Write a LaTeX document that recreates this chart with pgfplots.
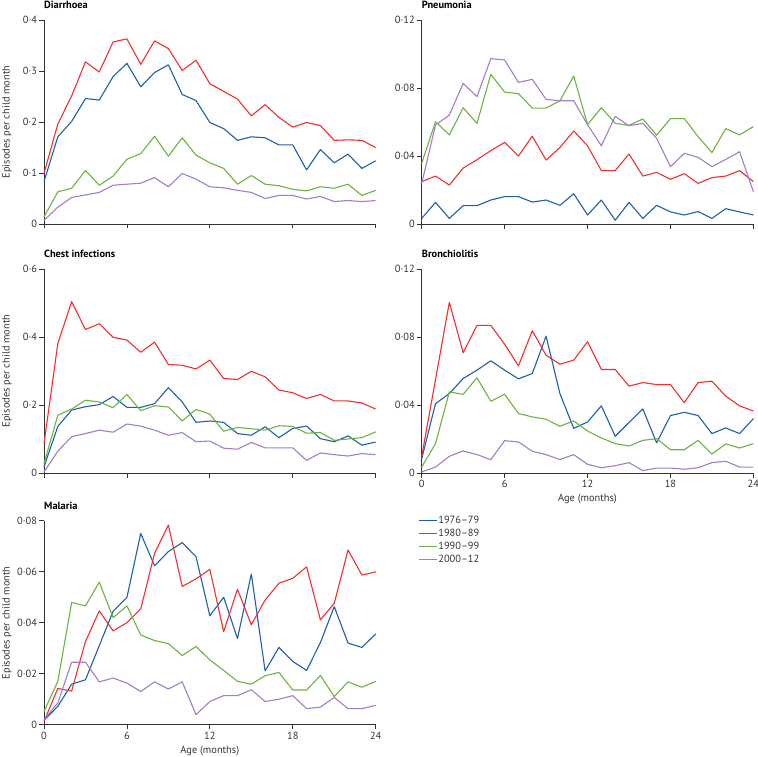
\documentclass[border=0pt]{standalone}
\usepackage{pgfplots}
\usepackage{pgfplotstable}
\pgfplotsset{compat=1.18}
\usepackage{fontspec}
\setmainfont{PT Sans}
\definecolor{cblue}{HTML}{1F5FA8}
\definecolor{cred}{HTML}{EE3030}
\definecolor{cgreen}{HTML}{6CB33F}
\definecolor{cpurple}{HTML}{A27DC8}
\definecolor{txt}{HTML}{333333}

\pgfplotstableread{
x blue red green purple
0 0.083 0.099 0.014 0.007
1 0.171 0.196 0.063 0.033
2 0.201 0.251 0.070 0.052
3 0.246 0.318 0.105 0.057
4 0.243 0.298 0.076 0.062
5 0.289 0.357 0.094 0.076
6 0.315 0.363 0.127 0.078
7 0.269 0.313 0.138 0.080
8 0.297 0.359 0.172 0.091
9 0.312 0.344 0.133 0.073
10 0.254 0.301 0.169 0.099
11 0.242 0.321 0.135 0.088
12 0.199 0.275 0.120 0.073
13 0.187 0.260 0.109 0.071
14 0.164 0.245 0.078 0.066
15 0.171 0.212 0.095 0.062
16 0.169 0.234 0.078 0.050
17 0.155 0.209 0.075 0.056
18 0.155 0.190 0.068 0.056
19 0.106 0.199 0.065 0.049
20 0.146 0.193 0.073 0.054
21 0.120 0.164 0.070 0.044
22 0.137 0.165 0.078 0.046
23 0.109 0.164 0.056 0.044
24 0.124 0.150 0.066 0.046
}\diarrhoea

\pgfplotstableread{
x blue red green purple
0 0.0033 0.0249 0.0357 0.0239
1 0.0127 0.0282 0.0602 0.0582
2 0.0033 0.0229 0.0524 0.0641
3 0.0108 0.0329 0.0684 0.0827
4 0.0108 0.0378 0.0592 0.0749
5 0.0141 0.0432 0.0880 0.0973
6 0.0161 0.0480 0.0776 0.0965
7 0.0161 0.0400 0.0767 0.0833
8 0.0129 0.0516 0.0682 0.0851
9 0.0141 0.0376 0.0682 0.0733
10 0.0110 0.0450 0.0725 0.0725
11 0.0178 0.0547 0.0870 0.0725
12 0.0053 0.0460 0.0584 0.0584
13 0.0141 0.0314 0.0684 0.0460
14 0.0022 0.0314 0.0592 0.0633
15 0.0127 0.0412 0.0580 0.0578
16 0.0033 0.0282 0.0618 0.0592
17 0.0110 0.0304 0.0522 0.0504
18 0.0071 0.0263 0.0620 0.0337
19 0.0053 0.0296 0.0620 0.0416
20 0.0073 0.0239 0.0514 0.0392
21 0.0033 0.0273 0.0420 0.0337
22 0.0090 0.0282 0.0561 0.0380
23 0.0071 0.0314 0.0524 0.0425
24 0.0053 0.0249 0.0573 0.0190
}\pneumonia

\pgfplotstableread{
x blue red green purple
0 0.018 0.086 0.027 0.003
1 0.137 0.381 0.170 0.064
2 0.185 0.504 0.188 0.107
3 0.195 0.422 0.214 0.116
4 0.201 0.439 0.209 0.126
5 0.225 0.399 0.192 0.120
6 0.193 0.391 0.231 0.144
7 0.193 0.355 0.183 0.138
8 0.204 0.385 0.198 0.126
9 0.251 0.319 0.194 0.111
10 0.209 0.317 0.153 0.119
11 0.149 0.306 0.187 0.092
12 0.153 0.332 0.173 0.094
13 0.149 0.278 0.123 0.073
14 0.116 0.275 0.134 0.070
15 0.111 0.299 0.130 0.090
16 0.136 0.283 0.126 0.074
17 0.104 0.244 0.139 0.074
18 0.131 0.236 0.137 0.074
19 0.138 0.219 0.117 0.037
20 0.101 0.231 0.119 0.059
21 0.092 0.212 0.096 0.054
22 0.109 0.212 0.100 0.050
23 0.082 0.206 0.104 0.057
24 0.091 0.188 0.121 0.054
}\chest

\pgfplotstableread{
x blue red green purple
0 0.0084 0.0098 0.0035 0.0006
1 0.0408 0.0550 0.0173 0.0035
2 0.0467 0.1004 0.0477 0.0098
3 0.0556 0.0707 0.0463 0.0130
4 0.0605 0.0868 0.0560 0.0108
5 0.0660 0.0868 0.0422 0.0079
6 0.0605 0.0758 0.0463 0.0190
7 0.0554 0.0630 0.0350 0.0183
8 0.0585 0.0837 0.0330 0.0128
9 0.0805 0.0693 0.0316 0.0108
10 0.0467 0.0640 0.0275 0.0079
11 0.0263 0.0664 0.0306 0.0108
12 0.0300 0.0772 0.0247 0.0051
13 0.0395 0.0609 0.0206 0.0031
14 0.0216 0.0609 0.0173 0.0043
15 0.0297 0.0511 0.0159 0.0061
16 0.0377 0.0532 0.0192 0.0014
17 0.0177 0.0520 0.0202 0.0029
18 0.0338 0.0520 0.0137 0.0029
19 0.0357 0.0414 0.0137 0.0022
20 0.0338 0.0532 0.0192 0.0031
21 0.0232 0.0540 0.0112 0.0061
22 0.0265 0.0452 0.0171 0.0069
23 0.0232 0.0395 0.0147 0.0035
24 0.0320 0.0365 0.0173 0.0035
}\bronch

\pgfplotstableread{
x blue red green purple
0 0.0017 0.0013 0.0052 0.0020
1 0.0072 0.0142 0.0170 0.0085
2 0.0159 0.0132 0.0479 0.0245
3 0.0176 0.0326 0.0466 0.0245
4 0.0310 0.0446 0.0559 0.0168
5 0.0445 0.0368 0.0420 0.0183
6 0.0499 0.0400 0.0466 0.0163
7 0.0750 0.0454 0.0352 0.0130
8 0.0623 0.0672 0.0330 0.0168
9 0.0679 0.0783 0.0318 0.0140
10 0.0714 0.0542 0.0271 0.0168
11 0.0659 0.0572 0.0307 0.0039
12 0.0427 0.0609 0.0254 0.0091
13 0.0500 0.0365 0.0213 0.0114
14 0.0338 0.0531 0.0170 0.0114
15 0.0591 0.0392 0.0159 0.0137
16 0.0211 0.0489 0.0192 0.0091
17 0.0303 0.0555 0.0205 0.0100
18 0.0248 0.0574 0.0136 0.0114
19 0.0213 0.0619 0.0136 0.0063
20 0.0322 0.0411 0.0193 0.0069
21 0.0463 0.0476 0.0110 0.0107
22 0.0320 0.0685 0.0168 0.0063
23 0.0303 0.0587 0.0147 0.0063
24 0.0356 0.0599 0.0170 0.0076
}\malaria

\newcommand{\fs}{\fontsize{10.4}{12.5}\selectfont}

\pgfplotsset{
  panel/.style={
    scale only axis, width=331.7pt, height=204pt,
    anchor=north west,
    axis lines*=left,
    axis line style={line width=0.8pt, color=txt},
    xmin=0, xmax=24, ymin=0,
    xtick={0,6,12,18,24},
    scaled y ticks=false, scaled x ticks=false,
    tick align=outside, major tick length=4.5pt,
    tick style={line width=0.8pt, color=txt},
    every tick label/.append style={font=\fs, text=txt},
    xticklabels={},
    y tick label style={xshift=1pt},
    title style={at={(0,1)}, anchor=base west, yshift=5.5pt, font=\bfseries\fs, text=black, inner sep=0pt},
    ylabel style={at={(axis description cs:-0.1266,0.5)}, rotate=0, anchor=north, font=\fs, text=txt, inner sep=0pt},
    xlabel style={at={(axis description cs:0.5,0)}, anchor=base, yshift=-28.5pt, font=\fs, text=txt, inner sep=0pt},
    clip=false,
  },
  xlab/.style={xticklabels={0,6,12,18,24}, x tick label style={yshift=1pt}},
  pl/.style={line width=1.1pt, line join=round, no markers},
}

\begin{document}
\begin{tikzpicture}
\useasboundingbox (0pt,0pt) rectangle (758pt,-757pt);

% Diarrhoea
\begin{axis}[panel, at={(44pt,-20pt)}, ymax=0.4, ytick={0,0.1,0.2,0.3,0.4},
  yticklabels={0,0·1,0·2,0·3,0·4}, title={Diarrhoea}, ylabel={Episodes per child month}]
\addplot[pl, cblue] table[x=x,y=blue] {\diarrhoea};
\addplot[pl, cred] table[x=x,y=red] {\diarrhoea};
\addplot[pl, cgreen] table[x=x,y=green] {\diarrhoea};
\addplot[pl, cpurple] table[x=x,y=purple] {\diarrhoea};
\end{axis}

% Pneumonia
\begin{axis}[panel, at={(421.7pt,-20pt)}, ymax=0.12, ytick={0,0.04,0.08,0.12},
  yticklabels={0,0·04,0·08,0·12}, title={Pneumonia}]
\addplot[pl, cblue] table[x=x,y=blue] {\pneumonia};
\addplot[pl, cred] table[x=x,y=red] {\pneumonia};
\addplot[pl, cgreen] table[x=x,y=green] {\pneumonia};
\addplot[pl, cpurple] table[x=x,y=purple] {\pneumonia};
\end{axis}

% Chest infections
\begin{axis}[panel, at={(44pt,-269pt)}, ymax=0.6, ytick={0,0.2,0.4,0.6},
  yticklabels={0,0·2,0·4,0·6}, title={Chest infections}, ylabel={Episodes per child month}]
\addplot[pl, cblue] table[x=x,y=blue] {\chest};
\addplot[pl, cred] table[x=x,y=red] {\chest};
\addplot[pl, cgreen] table[x=x,y=green] {\chest};
\addplot[pl, cpurple] table[x=x,y=purple] {\chest};
\end{axis}

% Bronchiolitis
\begin{axis}[panel, xlab, at={(421.7pt,-269pt)}, ymax=0.12, ytick={0,0.04,0.08,0.12},
  yticklabels={0,0·04,0·08,0·12}, title={Bronchiolitis}, xlabel={Age (months)}]
\addplot[pl, cblue] table[x=x,y=blue] {\bronch};
\addplot[pl, cred] table[x=x,y=red] {\bronch};
\addplot[pl, cgreen] table[x=x,y=green] {\bronch};
\addplot[pl, cpurple] table[x=x,y=purple] {\bronch};
\end{axis}

% Malaria
\begin{axis}[panel, xlab, at={(44pt,-520.7pt)}, ymax=0.08, ytick={0,0.02,0.04,0.06,0.08},
  yticklabels={0,0·02,0·04,0·06,0·08}, title={Malaria}, xlabel={Age (months)},
  ylabel={Episodes per child month},
  legend style={at={(axis description cs:1.1275,1.03)}, anchor=north west,
    draw=none, fill=none, font=\fs, text=txt,
    inner sep=0pt, row sep=1.8pt,
    nodes={inner sep=1.2pt, anchor=west}},
  legend cell align=left,
  legend image code/.code={\draw[#1, line width=1pt] (0pt,0pt) -- (18pt,0pt);}]
\addplot[pl, cblue] table[x=x,y=blue] {\malaria};
\addplot[pl, cred] table[x=x,y=red] {\malaria};
\addplot[pl, cgreen] table[x=x,y=green] {\malaria};
\addplot[pl, cpurple] table[x=x,y=purple] {\malaria};
\legend{1976–79,1980–89,1990–99,2000–12}
\end{axis}
\end{tikzpicture}
\end{document}
